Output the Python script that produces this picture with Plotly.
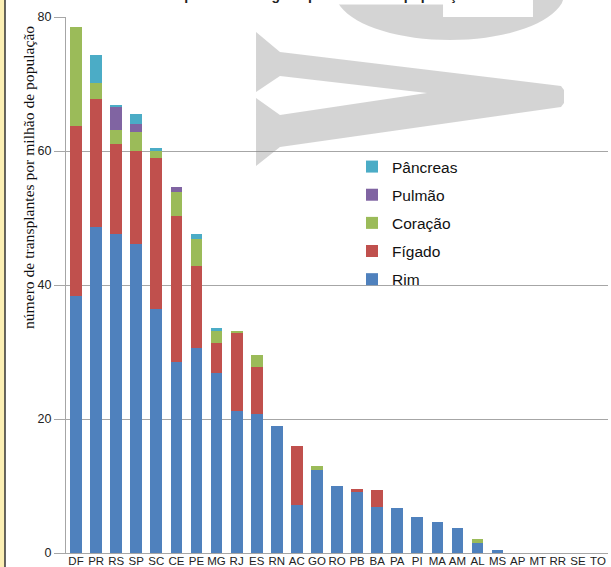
import math
import plotly.graph_objects as go

# ---- data ----
estados = ["DF", "PR", "RS", "SP", "SC", "CE", "PE", "MG", "RJ", "ES", "RN", "AC", "GO", "RO",
           "PB", "BA", "PA", "PI", "MA", "AM", "AL", "MS", "AP", "MT", "RR", "SE", "TO"]
rim = [38.4, 48.6, 47.6, 46.1, 36.4, 28.5, 30.6, 26.8, 21.2, 20.7, 19.0, 7.1, 12.4, 10.0,
       9.1, 6.9, 6.7, 5.3, 4.6, 3.8, 1.5, 0.5, 0, 0, 0, 0, 0]
figado = [25.3, 19.2, 13.4, 13.9, 22.5, 21.8, 12.3, 4.6, 11.6, 7.0, 0, 8.8, 0, 0,
          0.4, 2.5, 0, 0, 0, 0, 0, 0, 0, 0, 0, 0, 0]
coracao = [14.8, 2.4, 2.2, 2.9, 1.1, 3.6, 4.0, 1.8, 0.4, 1.9, 0, 0, 0.6, 0,
           0, 0, 0, 0, 0, 0, 0.6, 0, 0, 0, 0, 0, 0]
pulmao = [0, 0, 3.3, 1.2, 0, 0.8, 0, 0, 0, 0, 0, 0, 0, 0,
          0, 0, 0, 0, 0, 0, 0, 0, 0, 0, 0, 0, 0]
pancreas = [0, 4.1, 0.4, 1.4, 0.5, 0, 0.7, 0.4, 0, 0, 0, 0, 0, 0,
            0, 0, 0, 0, 0, 0, 0, 0, 0, 0, 0, 0, 0]
series_names = ["Rim", "Fígado", "Coração", "Pulmão", "Pâncreas"]
series_colors = ["#4F81BD", "#C0504D", "#9BBB59", "#8064A2", "#4BACC6"]
y_ticks = [0, 20, 40, 60, 80]
y_title = "número de transplantes por milhão de população"
titulo = "Transplantes de órgãos por milhão de população"

W, H = 611, 567
L, R, T, B = 66, 3, 17, 14
PW, PH = W - L - R, H - T - B


def px(x):
    return (x - L) / PW


def py(y):
    return (H - B - y) / PH


fig = go.Figure()
for i, (name, vals, col) in enumerate(zip(series_names, [rim, figado, coracao, pulmao, pancreas], series_colors)):
    fig.add_trace(go.Bar(x=estados, y=vals, name=name, marker=dict(color=col, line=dict(width=0)),
                         legendgroup=name, legendrank=len(series_names) - i))

# watermark shapes (decorative, pixel outline converted to paper coords)
v_pts = [(256, 32), (280, 52), (561, 86), (564, 90), (564, 103), (561, 107), (280, 147),
         (256, 166), (256, 98), (280, 115), (427, 93), (280, 76), (256, 92)]
v_path = "M " + " L ".join(f"{px(a):.4f},{py(b):.4f}" for a, b in v_pts) + " Z"

c_pts = []
for k in range(0, 41):
    t = math.pi * k / 40
    yy = -8 + 48 * math.sin(t)
    xx = 450 - 115 * math.cos(t)
    if yy >= 0:
        c_pts.append((xx, yy))
c_pts = [(337, 0)] + c_pts + [(563, 0), (533, 0), (533, 17), (443, 17), (443, 0)]
c_path = "M " + " L ".join(f"{px(a):.4f},{py(b):.4f}" for a, b in c_pts) + " Z"

shapes = [
    dict(type="path", path=v_path, xref="paper", yref="paper", fillcolor="rgba(128,128,128,0.34)",
         line=dict(width=0), layer="above"),
    dict(type="path", path=c_path, xref="paper", yref="paper", fillcolor="rgba(128,128,128,0.34)",
         line=dict(width=0), layer="above"),
    dict(type="rect", xref="paper", yref="paper", x0=px(0), x1=px(5), y0=py(H), y1=py(0),
         fillcolor="#FCEFB4", line=dict(width=0), layer="above"),
    dict(type="line", xref="paper", yref="paper", x0=px(5), x1=px(5), y0=py(H), y1=py(0),
         line=dict(color="#333333", width=1.5), layer="above"),
]

fig.update_layout(
    width=W, height=H,
    margin=dict(l=L, r=R, t=T, b=B),
    paper_bgcolor="white", plot_bgcolor="white",
    barmode="stack", bargap=0.415,
    font=dict(family="Liberation Sans, Arial, sans-serif", color="#222222"),
    showlegend=True,
    legend=dict(x=px(352), y=py(150), xanchor="left", yanchor="top",
                traceorder="grouped", tracegroupgap=5,
                bgcolor="rgba(0,0,0,0)", borderwidth=0,
                font=dict(size=15.5, family="Liberation Sans, Arial, sans-serif", color="#111111")),
    shapes=shapes,
    annotations=[
        dict(text=y_title, xref="paper", yref="paper", x=px(28), y=py(178), textangle=-90,
             showarrow=False, xanchor="center", yanchor="middle",
             font=dict(family="Liberation Serif, Times New Roman, serif", size=15.6, color="#111111")),
        dict(text=f"<b>{titulo}</b>", xref="paper", yref="paper", x=px(310), y=py(5),
             showarrow=False, xanchor="center", yanchor="bottom", bgcolor="white",
             font=dict(size=14, color="#222222")),
    ],
)
fig.update_xaxes(
    type="category", showgrid=False, showline=True, linecolor="#A6A6A6", linewidth=1,
    ticks="", ticklabelstandoff=-3,
    tickfont=dict(size=11.5, family="Liberation Sans Narrow, Arial Narrow, Liberation Sans, sans-serif",
                  color="#222222"),
    automargin=False, fixedrange=True,
)
fig.update_yaxes(
    range=[0, 80], tickvals=y_ticks, ticktext=[str(v) for v in y_ticks],
    showgrid=True, gridcolor="#A6A6A6", gridwidth=1,
    showline=True, linecolor="#A6A6A6", linewidth=1,
    ticks="outside", ticklen=11, tickcolor="#A6A6A6",
    tickfont=dict(size=12.5, color="#222222"), automargin=False, zeroline=False,
)

fig.write_html("out.html", config={"displayModeBar": False},
               post_script="document.body.style.margin='0';document.body.style.overflow='hidden';")
